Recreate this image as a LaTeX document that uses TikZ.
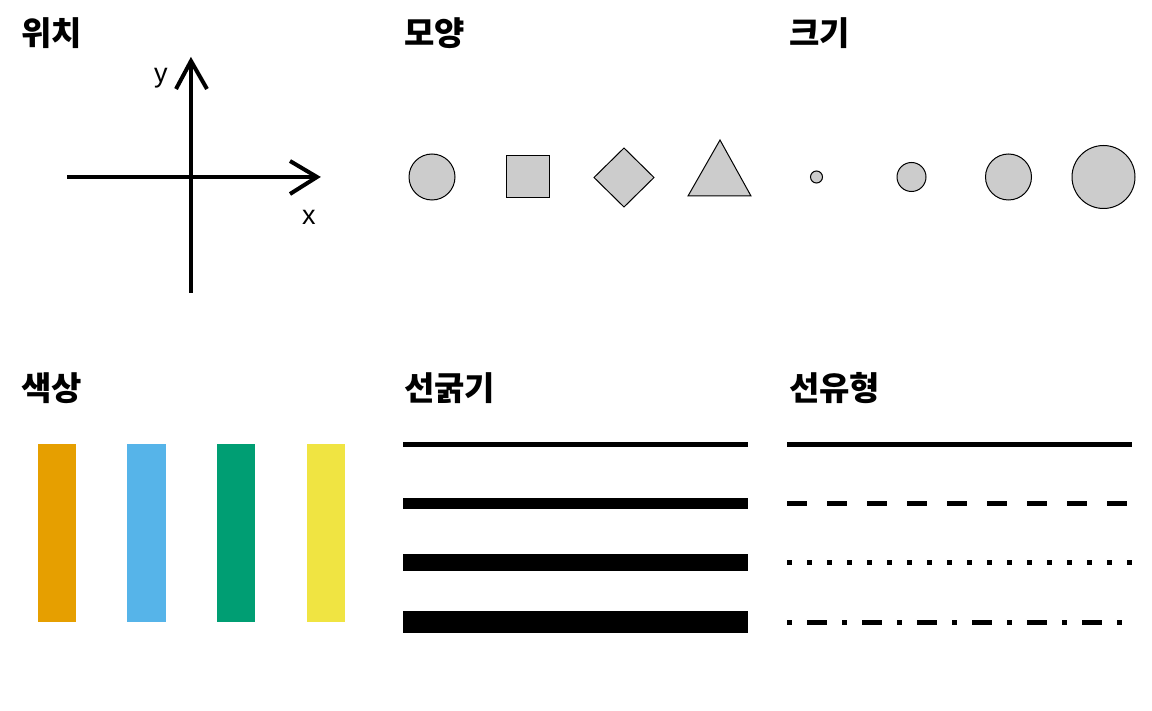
\documentclass[tikz,border=0pt]{standalone}
\usepackage{fontspec}
\setmainfont{Liberation Sans}
\newfontfamily\krfont{Noto Sans CJK KR}
\definecolor{shapegray}{HTML}{CCCCCC}
\definecolor{cOrange}{HTML}{E69F00}
\definecolor{cSky}{HTML}{56B4E9}
\definecolor{cGreen}{HTML}{009E73}
\definecolor{cYellow}{HTML}{F0E442}
\begin{document}
\begin{tikzpicture}[x=1pt,y=-1pt,
  title/.style={anchor=base west,inner sep=0pt,font=\krfont\bfseries\fontsize{33}{38}\selectfont},
  axlabel/.style={anchor=base west,inner sep=0pt,font=\fontsize{27}{30}\selectfont},
  axisline/.style={line width=4pt},
  shapefill/.style={fill=shapegray,draw=black,line width=1pt},
  demoline/.style={line cap=butt,draw=black}]
\path[use as bounding box] (0,0) rectangle (1152,711);
% titles
\node[title] (t1) at (21,46) {위치};
\node[title] (t2) at (404,46) {모양};
\node[title] (t3) at (789,46) {크기};
\node[title] (t4) at (21,401) {색상};
\node[title] (t5) at (404,401) {선굵기};
\node[title] (t6) at (789,401) {선유형};
% axes
\coordinate (xl) at (67,177);
\coordinate (xr) at (317,177);
\coordinate (yb) at (191,293);
\coordinate (yt) at (191,61);
\draw[axisline] (xl) -- (xr);
\draw[axisline] (yb) -- (yt);
\draw[axisline] (290,161) -- (xr) -- (290,194);
\draw[axisline] (176,89) -- (yt) -- (207,89);
\node[axlabel] (ylab) at (154,83) {y};
\node[axlabel] (xlab) at (302,225) {x};
% shapes
\draw[shapefill] (432,177) circle[radius=23];
\draw[shapefill] (506,156) rectangle (549,198);
\draw[shapefill] (594,177.5) -- (624,148) -- (654,177.5) -- (624,207) -- cycle;
\draw[shapefill] (688,196) -- (720,140) -- (751,196) -- cycle;
% sizes
\draw[shapefill] (816.5,177) circle[radius=6];
\draw[shapefill] (911.5,177) circle[radius=14.5];
\draw[shapefill] (1008.5,177) circle[radius=23];
\draw[shapefill] (1103.5,177) circle[radius=31.5];
% colours
\fill[cOrange] (38,444) rectangle (76,622);
\fill[cSky] (127,444) rectangle (166,622);
\fill[cGreen] (217,444) rectangle (255,622);
\fill[cYellow] (307,444) rectangle (345,622);
% line widths
\draw[demoline,line width=5pt] (403,444.5) -- (748,444.5);
\draw[demoline,line width=11pt] (403,503.5) -- (748,503.5);
\draw[demoline,line width=17pt] (403,562.5) -- (748,562.5);
\draw[demoline,line width=22pt] (403,622) -- (748,622);
% line types
\draw[demoline,line width=5pt] (787,444.5) -- (1132,444.5);
\draw[demoline,line width=5pt,dash pattern=on 20pt off 20pt] (787,503.5) -- (1132,503.5);
\draw[demoline,line width=5pt,dash pattern=on 5pt off 15pt] (787,562.5) -- (1132,562.5);
\draw[demoline,line width=5pt,dash pattern=on 5pt off 15pt on 20pt off 15pt] (787,622.5) -- (1132,622.5);
\end{tikzpicture}
\end{document}
